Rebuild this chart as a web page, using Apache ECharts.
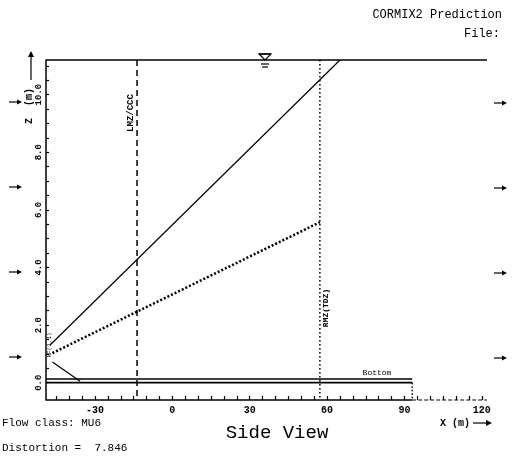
<!DOCTYPE html>
<html>
<head>
<meta charset="utf-8">
<title>CORMIX2 Prediction - Side View</title>
<script src="https://cdn.jsdelivr.net/npm/echarts@6.0.0/dist/echarts.min.js"></script>
<style>
	html, body { margin: 0; padding: 0; background: #fff; }
	#main { width: 515px; height: 462px; }
</style>
</head>
<body>
<div id="main"></div>
<script>
// axis labels / ticks
var xLabels = [-30, 0, 30, 60, 90, 120];
var xTicks = [-45, -40, -35, -30, -25, -20, -15, -10, -5, 0, 5, 10, 15, 20, 25, 30, 35, 40, 45, 50, 55, 60, 65, 70, 75, 80, 85, 90, 95, 100, 105, 110, 115, 120];
var zLabels = [0, 2, 4, 6, 8, 10];
var zTicks = [0, 0.5, 1, 1.5, 2, 2.5, 3, 3.5, 4, 4.5, 5, 5.5, 6, 6.5, 7, 7.5, 8, 8.5, 9, 9.5, 10, 10.5, 11];

// geometry in metres (x, z)
var surfaceLine = [[-49, 11.2], [122, 11.2]];
var plumeTop = [[-47.5, 1.3], [65, 11.2]];
var plumeCenter = [[-46.5, 1.03], [57.2, 5.57]];
var nearField = [[-46.5, 0.72], [-35.8, 0.05]];
var lmzLine = [[-13.7, 11.2], [-13.7, -0.6]];
var rmzLine = [[57.2, 11.2], [57.2, -0.6]];
var bedTop = [[-49, 0.13], [93, 0.13]];
var bedBottom = [[-49, 0], [93, 0]];
var bedEdge = [[93, 0], [93, -0.6]];
var baseSolid = [[-49, -0.6], [93, -0.6]];
var baseDashed = [[93, -0.6], [122, -0.6]];

var mono = "'Liberation Mono', 'DejaVu Sans Mono', monospace";

var myChart = echarts.init(document.getElementById('main'));

function lineSeries(name, data, type, width)
{
	return {
		name: name,
		type: 'line',
		data: data,
		symbol: 'none',
		clip: false,
		silent: true,
		lineStyle: { color: '#000', width: width, type: type }
	};
}

function txt(x, y, s, size, align, rot, weight)
{
	return {
		type: 'text',
		x: x, y: y,
		rotation: rot || 0,
		style: {
			text: s,
			fill: '#000',
			font: (weight || 'normal') + ' ' + size + 'px ' + mono,
			align: align || 'left',
			verticalAlign: 'middle'
		}
	};
}

function arrowRight(x, y)
{
	return {
		type: 'group',
		children: [
			{ type: 'line', shape: { x1: x, y1: y, x2: x + 10, y2: y }, style: { stroke: '#000', lineWidth: 1.2 } },
			{ type: 'polygon', shape: { points: [[x + 13, y], [x + 8, y - 2.5], [x + 8, y + 2.5]] }, style: { fill: '#000' } }
		]
	};
}

var graphics = [
	txt(502, 15, 'CORMIX2 Prediction', 12, 'right'),
	txt(500, 34, 'File:', 12, 'right'),
	txt(2, 423, 'Flow class: MU6', 11, 'left'),
	txt(2, 448, 'Distortion =  7.846', 11, 'left'),
	txt(277, 433, 'Side View', 19, 'center'),
	txt(440, 423, 'X (m)', 10, 'left', 0, 'bold'),
	txt(377, 373, 'Bottom', 8, 'center'),
	txt(131, 113, 'LMZ/CCC', 9, 'center', Math.PI / 2, 'bold'),
	txt(326, 308, 'RMZ(TDZ)', 8, 'center', Math.PI / 2, 'bold'),
	txt(49, 345, 'NF(1,1)', 6, 'center', Math.PI / 2),
	txt(29, 106, 'Z  (m)', 10, 'center', Math.PI / 2, 'bold'),
	// X arrow
	{ type: 'line', shape: { x1: 473, y1: 423, x2: 488, y2: 423 }, style: { stroke: '#000', lineWidth: 1.2 } },
	{ type: 'polygon', shape: { points: [[492, 423], [486, 420], [486, 426]] }, style: { fill: '#000' } },
	// Z arrow
	{ type: 'line', shape: { x1: 31, y1: 80, x2: 31, y2: 56 }, style: { stroke: '#000', lineWidth: 1.2 } },
	{ type: 'polygon', shape: { points: [[31, 51], [28, 57], [34, 57]] }, style: { fill: '#000' } },
	// water surface symbol
	{ type: 'line', shape: { x1: 259, y1: 54, x2: 271, y2: 54 }, style: { stroke: '#000', lineWidth: 1.5 } },
	{ type: 'polygon', shape: { points: [[259, 54], [271, 54], [265, 60]] }, style: { fill: 'none', stroke: '#000', lineWidth: 1.2 } },
	{ type: 'line', shape: { x1: 261, y1: 64, x2: 269, y2: 64 }, style: { stroke: '#000', lineWidth: 1.2 } },
	{ type: 'line', shape: { x1: 262, y1: 67, x2: 268, y2: 67 }, style: { stroke: '#000', lineWidth: 1.2 } },
	arrowRight(9, 102), arrowRight(9, 187), arrowRight(9, 272), arrowRight(9, 357),
	arrowRight(494, 103), arrowRight(494, 188), arrowRight(494, 273), arrowRight(494, 358)
];

var option = {
	animation: false,
	backgroundColor: '#fff',
	grid: { left: 46, right: 28, top: 60, bottom: 62, containLabel: false },
	xAxis: {
		type: 'value',
		min: -49,
		max: 122,
		axisLine: { show: false, onZero: false },
		splitLine: { show: false },
		axisTick: { show: true, inside: true, length: 4, customValues: xTicks, lineStyle: { color: '#000', width: 1.2 } },
		axisLabel: { customValues: xLabels, color: '#000', fontFamily: mono, fontSize: 10, fontWeight: 'bold', margin: 5 }
	},
	yAxis: {
		type: 'value',
		min: -0.6,
		max: 11.2,
		axisLine: { show: true, onZero: false, lineStyle: { color: '#000', width: 1.5 } },
		splitLine: { show: false },
		axisTick: { show: true, inside: true, length: 3, customValues: zTicks, lineStyle: { color: '#000', width: 1.2 } },
		axisLabel: {
			customValues: zLabels, rotate: 90, color: '#000', fontFamily: mono, fontSize: 9, fontWeight: 'bold', margin: 3,
			formatter: function(v) { return v.toFixed(1); }
		}
	},
	series: [
		lineSeries('surface', surfaceLine, 'solid', 1.6),
		lineSeries('plume boundary', plumeTop, 'solid', 1.2),
		lineSeries('centerline', plumeCenter, [2, 2], 2.5),
		lineSeries('near field', nearField, 'solid', 1.2),
		lineSeries('LMZ', lmzLine, [6, 4], 1.5),
		lineSeries('RMZ', rmzLine, [1.5, 2.5], 1.5),
		lineSeries('bed top', bedTop, 'solid', 1.4),
		lineSeries('bed', bedBottom, 'solid', 1.8),
		lineSeries('bed edge', bedEdge, [1.5, 2], 1.5),
		lineSeries('base', baseSolid, 'solid', 1.5),
		lineSeries('base ext', baseDashed, [4, 2], 1.2)
	],
	graphic: graphics
};
myChart.setOption(option);
</script>
</body>
</html>
